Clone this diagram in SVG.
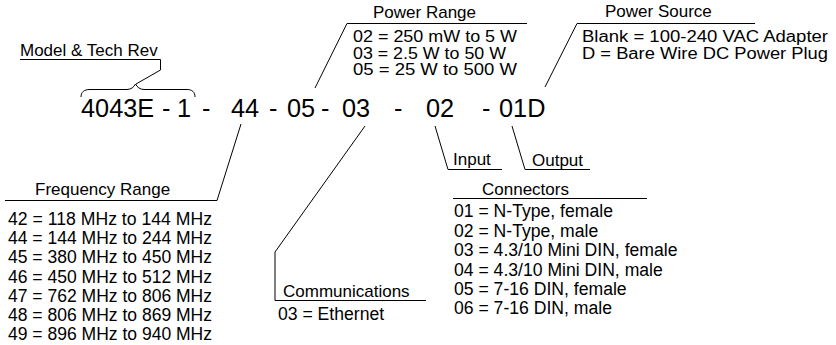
<svg xmlns="http://www.w3.org/2000/svg" width="836" height="345" viewBox="0 0 836 345">
<style>
text{font-family:"Liberation Sans",Arial,sans-serif;fill:#000;font-size:17px}
.li{font-size:17.6px}
.pw{font-size:16px}
.code{font-size:25.3px}
.ln{fill:none;stroke:#000;stroke-width:1}
</style>
<rect width="836" height="345" fill="#fff"/>
<g id="code">
<text class="code" y="117"><tspan x="81">4043E</tspan><tspan x="162">-</tspan><tspan x="177">1</tspan><tspan x="202">-</tspan><tspan x="231">44</tspan><tspan x="269">-</tspan><tspan x="287">05</tspan><tspan x="321">-</tspan><tspan x="342">03</tspan><tspan x="394">-</tspan><tspan x="426">02</tspan><tspan x="482">-</tspan><tspan x="499">01D</tspan></text>
</g>
<g id="model">
<text x="20" y="56">Model &amp; Tech Rev</text>
</g>
<g id="power-range">
<text x="373" y="18">Power Range</text>
<text class="pw" x="353" y="42" textLength="164" lengthAdjust="spacingAndGlyphs">02 = 250 mW to 5 W</text>
<text class="pw" x="353" y="58.5" textLength="153" lengthAdjust="spacingAndGlyphs">03 = 2.5 W to 50 W</text>
<text class="pw" x="353" y="75" textLength="164" lengthAdjust="spacingAndGlyphs">05 = 25 W to 500 W</text>
</g>
<g id="power-source">
<text x="605" y="17">Power Source</text>
<text class="pw" x="582" y="42" textLength="246" lengthAdjust="spacingAndGlyphs">Blank = 100-240 VAC Adapter</text>
<text class="pw" x="582" y="58.5" textLength="246" lengthAdjust="spacingAndGlyphs">D = Bare Wire DC Power Plug</text>
</g>
<g id="frequency">
<text x="35" y="195">Frequency Range</text>
<text class="li" x="8" y="225" textLength="204" lengthAdjust="spacingAndGlyphs">42 = 118 MHz to 144 MHz</text>
<text class="li" x="8" y="244.2" textLength="204" lengthAdjust="spacingAndGlyphs">44 = 144 MHz to 244 MHz</text>
<text class="li" x="8" y="263.4" textLength="204" lengthAdjust="spacingAndGlyphs">45 = 380 MHz to 450 MHz</text>
<text class="li" x="8" y="282.6" textLength="204" lengthAdjust="spacingAndGlyphs">46 = 450 MHz to 512 MHz</text>
<text class="li" x="8" y="301.8" textLength="204" lengthAdjust="spacingAndGlyphs">47 = 762 MHz to 806 MHz</text>
<text class="li" x="8" y="321" textLength="204" lengthAdjust="spacingAndGlyphs">48 = 806 MHz to 869 MHz</text>
<text class="li" x="8" y="340.2" textLength="204" lengthAdjust="spacingAndGlyphs">49 = 896 MHz to 940 MHz</text>
</g>
<g id="communications">
<text x="283" y="297">Communications</text>
<text class="li" x="278" y="320">03 = Ethernet</text>
</g>
<g id="input">
<text x="453" y="165">Input</text>
</g>
<g id="output">
<text x="532" y="166">Output</text>
</g>
<g id="connectors">
<text x="482" y="195">Connectors</text>
<line class="ln" x1="453" y1="198.5" x2="647" y2="198.5"/>
<text class="li" x="454" y="217.3">01 = N-Type, female</text>
<text class="li" x="454" y="236.7">02 = N-Type, male</text>
<text class="li" x="454" y="256">03 = 4.3/10 Mini DIN, female</text>
<text class="li" x="454" y="275.5">04 = 4.3/10 Mini DIN, male</text>
<text class="li" x="454" y="295">05 = 7-16 DIN, female</text>
<text class="li" x="454" y="314.3">06 = 7-16 DIN, male</text>
</g>
<g id="connectors-lines">
<path class="ln" d="M81,97 C81,92 84,89.5 90,89.5 L127,89.5 C131,89.5 134,87 135.5,84 C137,87 140,89.5 144,89.5 L187,89.5 C192,89.5 195,92 195,97"/>
<path class="ln" d="M20,59.5 H160.5 V70 L136,84"/>
<path class="ln" d="M315,88 L347,23.5 H527"/>
<path class="ln" d="M545,87 L577,23.5 H755"/>
<path class="ln" d="M241,124 L217,200.5 H5"/>
<path class="ln" d="M365,126 L275,252 V300.5 H426"/>
<path class="ln" d="M435,126 L448,169.5 H502"/>
<path class="ln" d="M512,126 L525,169.5 H590"/>
</g>
</svg>
